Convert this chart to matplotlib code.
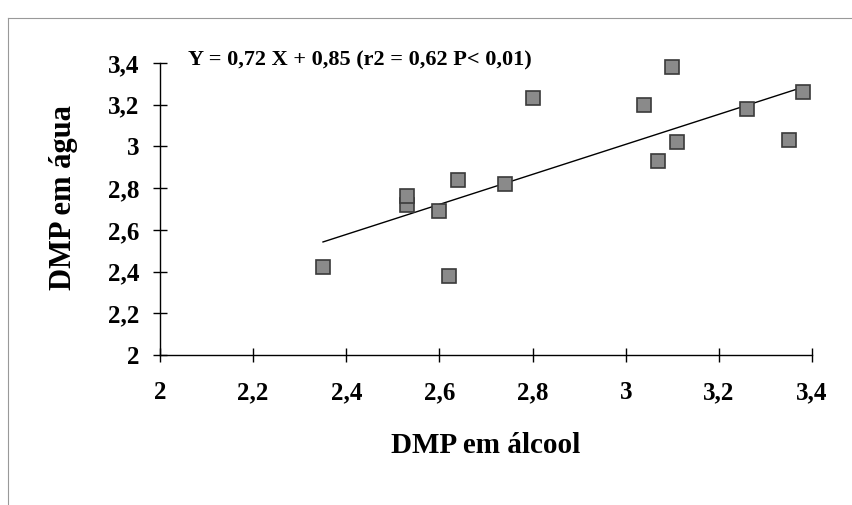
import matplotlib
matplotlib.use("Agg")
import matplotlib.pyplot as plt
from matplotlib.lines import Line2D
from matplotlib.ticker import FuncFormatter

# valeurs
dmp_alcool = [2.35, 2.53, 2.53, 2.60, 2.62, 2.64, 2.74, 2.80, 3.04, 3.07, 3.10, 3.11, 3.26, 3.35, 3.38]
dmp_agua = [2.42, 2.72, 2.76, 2.69, 2.38, 2.84, 2.82, 3.23, 3.20, 2.93, 3.38, 3.02, 3.18, 3.03, 3.26]
pente = 0.72
origine = 0.85
ticks = [2, 2.2, 2.4, 2.6, 2.8, 3, 3.2, 3.4]
equation = "Y = 0,72 X + 0,85 (r2 = 0,62 P< 0,01)"

plt.rcParams['font.family'] = ['Liberation Serif', 'DejaVu Serif']

fig = plt.figure(figsize=(8.53, 5.05), dpi=100)
ax = fig.add_axes([160/853, 1-355/505, (812-160)/853, (355-63)/505])

# droite de régression
x_min, x_max = min(dmp_alcool), max(dmp_alcool)
ax.plot([x_min, x_max], [pente*x_min + origine, pente*x_max + origine], color='black', lw=1.0, zorder=2)

ax.plot(dmp_alcool, dmp_agua, ls='none', marker='s', ms=9.5, mfc='#8a8a8a', mec='#3a3a3a', mew=1.2,
        zorder=3, clip_on=False)

ax.set_xlim(2, 3.4)
ax.set_ylim(2, 3.4)
ax.set_xticks(ticks)
ax.set_yticks(ticks)
virgule = FuncFormatter(lambda v, p: ('%g' % round(v, 1)).replace('.', ','))
ax.xaxis.set_major_formatter(virgule)
ax.yaxis.set_major_formatter(virgule)
for s in ['top', 'right']:
    ax.spines[s].set_visible(False)
for s in ['left', 'bottom']:
    ax.spines[s].set_linewidth(1.0)
ax.tick_params(direction='inout', length=10, width=1.0, labelsize=18)
ax.tick_params(axis='x', pad=14)
ax.tick_params(axis='y', pad=10)
for lab in ax.get_xticklabels() + ax.get_yticklabels():
    lab.set_fontweight('bold')

ax.set_xlabel("DMP em álcool", fontsize=21, fontweight='bold')
ax.xaxis.set_label_coords(0.5, -0.265)
ax.set_ylabel("DMP em água", fontsize=22, fontweight='bold')
ax.yaxis.set_label_coords(-0.125, 0.54)

fig.text(188/853, 1-60/505, equation, fontsize=16, fontweight='bold', va='center', ha='left')

# cadre du graphique (scan)
fig.add_artist(Line2D([8/853, 1], [1-18/505, 1-18/505], color='#999999', lw=0.8))
fig.add_artist(Line2D([8/853, 8/853], [0, 1-18/505], color='#999999', lw=0.8))

fig.savefig("out.png", dpi=100)
